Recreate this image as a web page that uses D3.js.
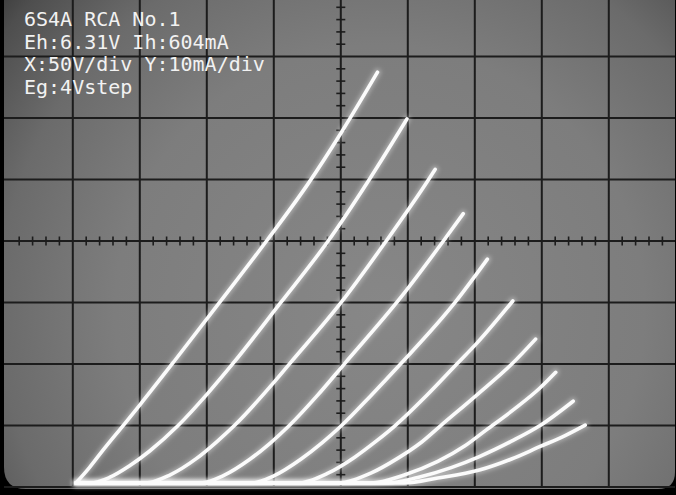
<!DOCTYPE html>
<meta charset="utf-8">
<style>
  body { margin: 0; background: #000; }
  svg { display: block; }
</style>
<script src="https://cdnjs.cloudflare.com/ajax/libs/d3/7.8.5/d3.min.js"></script>
<svg id="scope" width="676" height="495"></svg>
<script>

// plate curves: [plate volts, plate mA], one array per grid step
const eg0  = [[0,0],[10,2.5],[20,5.3],[35,9.3],[48,12.8],[74,20.0],[108,29.6],[143,39.6],[173,48.6],[198,57.0],[225,66.8]];
const eg4  = [[0,0],[11,0],[25,0.9],[40,2.8],[55,5.2],[76,9.3],[98,14.5],[117,19.4],[153,29.4],[188,39.3],[219,49.4],[247,59.2]];
const eg8  = [[0,0],[52,0],[70,1.3],[90,4.0],[105,6.7],[118,9.3],[147,16.2],[159,19.3],[198,29.4],[230,38.9],[263,49.3],[268,51.0]];
const eg12 = [[0,0],[93,0],[110,1.2],[130,3.9],[145,6.5],[159,9.3],[180,14.2],[200,19.3],[241,29.8],[274,39.3],[289,43.8]];
const eg16 = [[0,0],[131,0],[148,1.2],[168,3.9],[184,6.6],[198,9.3],[220,14.2],[242,19.3],[283,29.4],[307,36.4]];
const eg20 = [[0,0],[165,0],[188,1.6],[208,4.2],[224,6.8],[238,9.3],[262,14.3],[284,19.3],[299,22.7],[326,29.6]];
const eg24 = [[0,0],[195,0],[220,1.6],[240,4.0],[257,6.5],[272,9.3],[299,14.3],[325,19.3],[343,23.4]];
const eg28 = [[0,0],[220,0],[245,1.3],[270,3.5],[290,6.0],[306,8.6],[327,12.0],[346,15.4],[358,18.0]];
const eg32 = [[0,0],[232,0],[255,0.9],[280,2.5],[301,4.3],[325,6.8],[346,9.3],[371,13.3]];
const eg36 = [[0,0],[245,0],[270,0.8],[301,2.1],[325,3.9],[346,5.9],[365,7.7],[380,9.4]];
const curves = [eg0, eg4, eg8, eg12, eg16, eg20, eg24, eg28, eg32, eg36];

const labelLines = ["6S4A RCA No.1", "Eh:6.31V Ih:604mA", "X:50V/div Y:10mA/div", "Eg:4Vstep"];

const voltsPerDiv = 50, mAPerDiv = 10;
const divsX = 10, divsY = 8;

const svg = d3.select("#scope");

// graticule, in divisions
const gx = d3.scaleLinear().domain([0, divsX]).range([5.8, 675.8]);
const gy = d3.scaleLinear().domain([0, divsY]).range([487, -5]);

// trace origin sits a bit right of / above the bottom left corner
const ox = 1.048, oy = 0.065;
const x = d3.scaleLinear().domain([-ox * voltsPerDiv, (divsX - ox) * voltsPerDiv]).range(gx.range());
const y = d3.scaleLinear().domain([-oy * mAPerDiv, (divsY - oy) * mAPerDiv]).range(gy.range());

const defs = svg.append("defs");

const grad = defs.append("radialGradient")
    .attr("id", "screen")
    .attr("gradientUnits", "userSpaceOnUse")
    .attr("cx", 380).attr("cy", 310).attr("r", 530);
[[0, "#878787"], [0.5, "#7d7d7d"], [0.72, "#6b6b6b"], [0.88, "#4e4e4e"], [1, "#262626"]]
  .forEach(s => grad.append("stop").attr("offset", s[0]).attr("stop-color", s[1]));

const halo = defs.append("filter").attr("id", "halo")
    .attr("filterUnits", "userSpaceOnUse")
    .attr("x", 0).attr("y", 0).attr("width", 676).attr("height", 495);
halo.append("feGaussianBlur").attr("stdDeviation", 2.2);

const soft = defs.append("filter").attr("id", "soft")
    .attr("filterUnits", "userSpaceOnUse")
    .attr("x", 0).attr("y", 0).attr("width", 676).attr("height", 495);
soft.append("feGaussianBlur").attr("stdDeviation", 0.6);

// black bezel and the screen face
svg.append("rect").attr("width", 676).attr("height", 495).attr("fill", "#000");
svg.append("path")
    .attr("d", "M4,-10 H675 V472 Q675,489 658,489 H26 Q4,489 4,467 Z")
    .attr("fill", "url(#screen)");

// graticule
const grid = svg.append("g").attr("stroke", "#1c1c1c").attr("stroke-width", 2);

grid.selectAll(".vx")
  .data(d3.range(1, divsX))
  .join("line")
    .attr("x1", d => gx(d)).attr("x2", d => gx(d))
    .attr("y1", 0).attr("y2", gy(0));

grid.selectAll(".hy")
  .data(d3.range(1, divsY + 1))
  .join("line")
    .attr("class", "hy")
    .attr("x1", 4).attr("x2", 675)
    .attr("y1", d => gy(d)).attr("y2", d => gy(d));

grid.append("line")
    .attr("x1", 4).attr("x2", 675)
    .attr("y1", gy(0)).attr("y2", gy(0));

// minor ticks on the centre axes
const minorX = d3.range(1, divsX * 5).filter(d => d % 5 !== 0).map(d => d / 5);
const minorY = d3.range(1, divsY * 5).filter(d => d % 5 !== 0).map(d => d / 5);

grid.append("g")
  .selectAll("line")
  .data(minorX)
  .join("line")
    .attr("stroke-width", 1.6)
    .attr("x1", d => gx(d)).attr("x2", d => gx(d))
    .attr("y1", gy(divsY / 2) - 4.5).attr("y2", gy(divsY / 2) + 4.5);

grid.append("g")
  .selectAll("line")
  .data(minorY)
  .join("line")
    .attr("stroke-width", 1.6)
    .attr("x1", gx(divsX / 2) - 4.5).attr("x2", gx(divsX / 2) + 4.5)
    .attr("y1", d => gy(d)).attr("y2", d => gy(d));

// traces
const line = d3.line()
    .x(d => x(d[0]))
    .y(d => y(d[1]))
    .curve(d3.curveMonotoneX);

svg.append("g")
    .attr("filter", "url(#halo)")
  .selectAll("path")
  .data(curves)
  .join("path")
    .attr("d", line)
    .attr("fill", "none")
    .attr("stroke", "#ffffff")
    .attr("stroke-opacity", 0.35)
    .attr("stroke-width", 7)
    .attr("stroke-linecap", "round");

svg.append("g")
    .attr("filter", "url(#soft)")
  .selectAll("path")
  .data(curves)
  .join("path")
    .attr("d", line)
    .attr("fill", "none")
    .attr("stroke", "#fbfbfb")
    .attr("stroke-width", 3.6)
    .attr("stroke-linecap", "round");

// scope readout
svg.append("g")
  .selectAll("text")
  .data(labelLines)
  .join("text")
    .attr("x", 24)
    .attr("y", (d, i) => 26 + i * 22.7)
    .attr("font-family", "DejaVu Sans Mono, monospace")
    .attr("font-size", 20)
    .attr("fill", "#f2f2f2")
    .text(d => d);

</script>
